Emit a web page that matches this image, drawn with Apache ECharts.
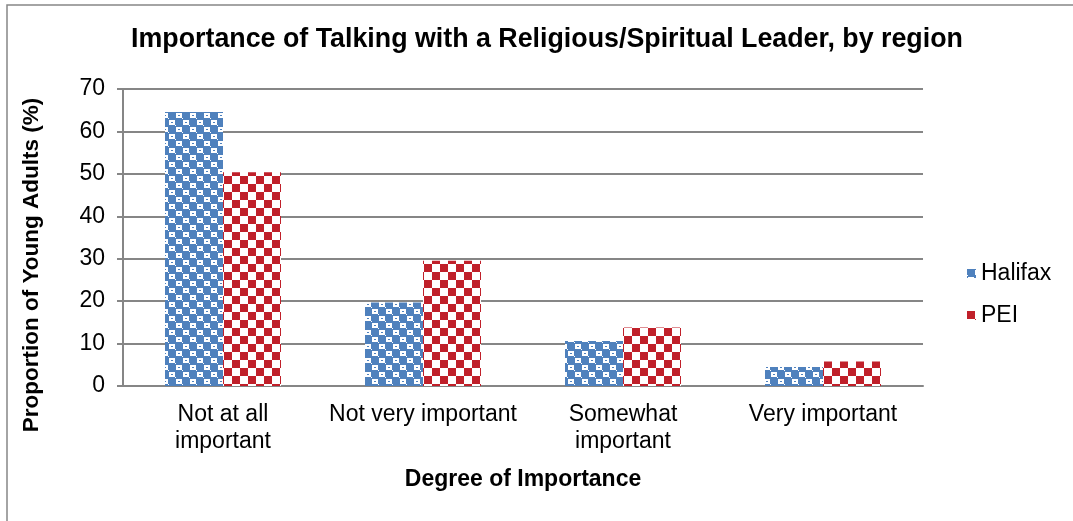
<!DOCTYPE html>
<html>
<head>
<meta charset="utf-8">
<script src="https://cdn.jsdelivr.net/npm/echarts@6/dist/echarts.min.js"></script>
<style>
  html, body { margin: 0; padding: 0; background: #fff; }
  #chart { width: 1073px; height: 521px; }
</style>
</head>
<body>
<div id="chart"></div>
<script>
var categories = ['Not at all\nimportant', 'Not very important', 'Somewhat\nimportant', 'Very important'];
var halifax = [64.6, 19.7, 10.6, 4.5];
var pei = [50.4, 29.5, 13.8, 5.8];
var yTicks = [0, 10, 20, 30, 40, 50, 60, 70];

// blue pattern tile
function bluePattern() {
    var c = document.createElement('canvas');
    c.width = 14; c.height = 14;
    var g = c.getContext('2d');
    g.fillStyle = '#4f81bd';
    g.fillRect(0, 0, 14, 14);
    g.fillStyle = '#fff';
    g.fillRect(8, 1, 6, 5);
    g.fillRect(1, 8, 6, 5);
    g.fillRect(0, 6, 1, 1);
    g.fillRect(7, 13, 1, 1);
    g.fillStyle = '#4f81bd';
    g.fillRect(10, 3, 2, 1);
    g.fillRect(3, 10, 2, 1);
    return c;
}
// red checkerboard tile
function redPattern() {
    var c = document.createElement('canvas');
    c.width = 16; c.height = 16;
    var g = c.getContext('2d');
    g.fillStyle = '#fff';
    g.fillRect(0, 0, 16, 16);
    g.fillStyle = '#c0202a';
    g.fillRect(0, 0, 8, 8);
    g.fillRect(8, 8, 8, 8);
    return c;
}

var blueFill = { image: bluePattern(), repeat: 'repeat' };
var redFill = { image: redPattern(), repeat: 'repeat' };

var chart = echarts.init(document.getElementById('chart'));
chart.setOption({
    backgroundColor: '#fff',
    animation: false,
    textStyle: { fontFamily: 'Liberation Sans' },
    graphic: [{
        type: 'rect',
        shape: { x: 7, y: 5, width: 1200, height: 700 },
        style: { fill: 'none', stroke: '#868686', lineWidth: 1.5 },
        silent: true
    }, {
        // y axis title, placed like the original (a little below plot centre)
        type: 'text',
        x: 32,
        y: 265,
        rotation: Math.PI / 2,
        style: {
            text: 'Proportion of Young Adults (%)',
            fontSize: 22.5,
            fontWeight: 'bold',
            fontFamily: 'Liberation Sans',
            fill: '#000',
            textAlign: 'center',
            textVerticalAlign: 'middle'
        },
        silent: true
    }],
    title: {
        text: 'Importance of Talking with a Religious/Spiritual Leader, by region',
        left: 542,
        textAlign: 'center',
        top: 21,
        textStyle: { fontSize: 26.8, fontWeight: 'bold', color: '#000', fontFamily: 'Liberation Sans' }
    },
    legend: {
        orient: 'vertical',
        left: 962,
        top: 257,
        itemWidth: 9,
        itemHeight: 9,
        itemGap: 19,
        icon: 'rect',
        textStyle: { fontSize: 23, color: '#000', fontFamily: 'Liberation Sans' },
        data: ['Halifax', 'PEI']
    },
    grid: { left: 123, top: 89, width: 800, height: 297, containLabel: false },
    xAxis: {
        type: 'category',
        data: categories,
        name: 'Degree of Importance',
        nameLocation: 'middle',
        nameGap: 82,
        nameTextStyle: { fontSize: 23, fontWeight: 'bold', color: '#000', fontFamily: 'Liberation Sans' },
        axisLine: { lineStyle: { color: '#868686', width: 2 } },
        axisTick: { show: false },
        axisLabel: { interval: 0, fontSize: 23, color: '#000', margin: 15, lineHeight: 27, fontFamily: 'Liberation Sans' }
    },
    yAxis: {
        type: 'value',
        min: yTicks[0],
        max: yTicks[yTicks.length - 1],
        interval: 10,
        axisLine: { show: true, lineStyle: { color: '#868686', width: 2 } },
        axisTick: { show: true, length: 6, lineStyle: { color: '#868686', width: 2 } },
        axisLabel: { fontSize: 23, color: '#000', margin: 18, fontFamily: 'Liberation Sans' },
        splitLine: { lineStyle: { color: '#868686', width: 2 } }
    },
    series: [
        {
            name: 'Halifax',
            type: 'bar',
            data: halifax,
            barWidth: 58,
            barGap: '0%',
            itemStyle: { color: blueFill }
        },
        {
            name: 'PEI',
            type: 'bar',
            data: pei,
            barWidth: 58,
            itemStyle: { color: redFill }
        }
    ]
});
</script>
</body>
</html>
